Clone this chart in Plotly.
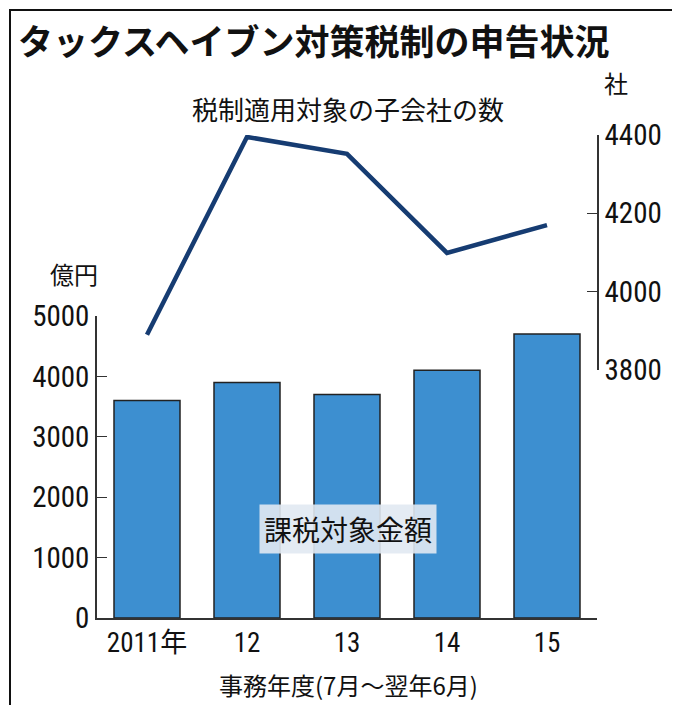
import plotly.graph_objects as go

years = ['2011年', '12', '13', '14', '15']
amount = [3600, 3900, 3700, 4100, 4700]      # 課税対象金額 (億円)
subsidiaries = [3890, 4395, 4352, 4099, 4170]  # 子会社の数 (社)
left_ticks = [0, 1000, 2000, 3000, 4000, 5000]
right_ticks = [3800, 4000, 4200, 4400]

W, H = 680, 705
L, R, T, B = 89, 91, 100, 95
pw, ph = W - L - R, H - T - B
FONT = 'Noto Sans CJK JP'
NUMFONT = 'Liberation Sans Narrow, Roboto Condensed, ' + FONT


def px_x(x):
    return (x - L) / pw


def px_y(y):
    return (H - B - y) / ph


fig = go.Figure()
fig.add_trace(go.Bar(
    x=years, y=amount, width=0.66,
    marker=dict(color='#3d8fd0', line=dict(color='#222222', width=1.5)),
    yaxis='y', showlegend=False,
))
fig.add_trace(go.Scatter(
    x=years, y=subsidiaries, mode='lines',
    line=dict(color='#163c72', width=4.5),
    yaxis='y2', showlegend=False,
))

fig.update_layout(
    width=W, height=H,
    margin=dict(l=L, r=R, t=T, b=B, autoexpand=False),
    paper_bgcolor='white', plot_bgcolor='rgba(0,0,0,0)',
    font=dict(family=FONT, color='#111111', size=22),
    xaxis=dict(
        range=[-0.5, 4.5], showline=True, linecolor='#333333', linewidth=1.5,
        ticks='', automargin=False, tickfont=dict(size=27, family=NUMFONT),
    ),
    yaxis=dict(
        domain=[0, px_y(308)], range=[0, 5000], tickvals=left_ticks,
        showline=True, linecolor='#333333', linewidth=1.5, showgrid=False,
        zeroline=False, ticks='inside', ticklen=10, tickcolor='#333333',
        automargin=False, tickfont=dict(size=29, family=NUMFONT),
    ),
    yaxis2=dict(
        domain=[px_y(362), px_y(127)], range=[3800, 4400], tickvals=right_ticks,
        anchor='x', side='right',
        showline=True, linecolor='#333333', linewidth=1.5, showgrid=False,
        zeroline=False, ticks='inside', ticklen=10, tickcolor='#333333',
        automargin=False, tickfont=dict(size=29, family=NUMFONT),
    ),
)

ann = [
    dict(text='<b>タックスヘイブン対策税制の申告状況</b>', x=px_x(8), y=px_y(31),
         xanchor='left', font=dict(size=35)),
    dict(text='税制適用対象の子会社の数', x=px_x(340), y=px_y(100), font=dict(size=26)),
    dict(text='億円', x=px_x(40), y=px_y(265), font=dict(size=24)),
    dict(text='社', x=px_x(622), y=px_y(75), font=dict(size=24)),
    dict(text='課税対象金額', x=px_x(340), y=px_y(521), font=dict(size=28),
         bgcolor='rgba(225,233,242,0.9)', borderpad=4),
    dict(text='事務年度(7月～翌年6月)', x=px_x(340), y=px_y(676), font=dict(size=24)),
]
for a in ann:
    fig.add_annotation(xref='paper', yref='paper', showarrow=False, yanchor='middle', **a)

fig.add_shape(type='rect', xref='paper', yref='paper',
              x0=px_x(2), x1=px_x(W - 3), y0=px_y(2), y1=px_y(H - 3),
              line=dict(color='#111111', width=2), layer='below')

fig.write_html('out.html')
